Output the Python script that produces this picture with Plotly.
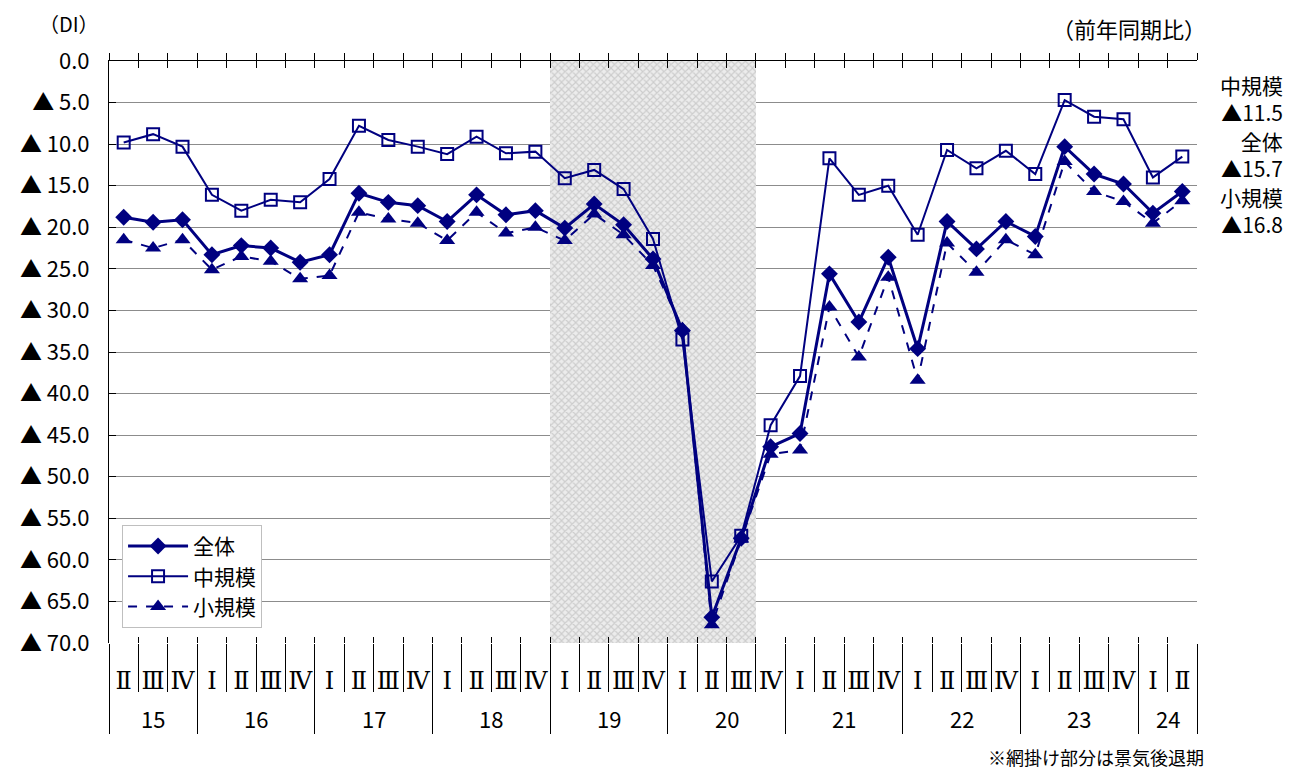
import plotly.graph_objects as go

# ---------------- data ----------------
years = ["15", "16", "17", "18", "19", "20", "21", "22", "23", "24"]
year_quarters = [
    ["Ⅱ", "Ⅲ", "Ⅳ"],
    ["Ⅰ", "Ⅱ", "Ⅲ", "Ⅳ"],
    ["Ⅰ", "Ⅱ", "Ⅲ", "Ⅳ"],
    ["Ⅰ", "Ⅱ", "Ⅲ", "Ⅳ"],
    ["Ⅰ", "Ⅱ", "Ⅲ", "Ⅳ"],
    ["Ⅰ", "Ⅱ", "Ⅲ", "Ⅳ"],
    ["Ⅰ", "Ⅱ", "Ⅲ", "Ⅳ"],
    ["Ⅰ", "Ⅱ", "Ⅲ", "Ⅳ"],
    ["Ⅰ", "Ⅱ", "Ⅲ", "Ⅳ"],
    ["Ⅰ", "Ⅱ"],
]

# DI values (negative values shown as ▲ magnitude)
total = [18.8, 19.4, 19.1, 23.3, 22.2, 22.5, 24.2, 23.3, 15.9, 17.0, 17.4, 19.3,
         16.1, 18.5, 18.0, 20.1, 17.2, 19.7, 23.8, 32.4, 66.9, 57.4, 46.4, 44.8,
         25.6, 31.4, 23.6, 34.6, 19.3, 22.6, 19.3, 21.1, 10.3, 13.6, 14.8, 18.3, 15.7]
mid = [9.8, 8.8, 10.3, 16.1, 18.0, 16.7, 17.0, 14.2, 7.8, 9.5, 10.3, 11.2,
       9.1, 11.1, 10.9, 14.1, 13.1, 15.4, 21.4, 33.5, 62.6, 57.1, 43.8, 37.9,
       11.7, 16.1, 15.0, 20.9, 10.7, 12.9, 10.8, 13.6, 4.7, 6.7, 7.0, 14.0, 11.5]
small = [21.5, 22.5, 21.5, 25.1, 23.5, 24.1, 26.2, 25.8, 18.2, 19.0, 19.5, 21.6,
         18.2, 20.7, 20.0, 21.6, 18.4, 20.9, 24.6, 32.2, 67.8, 57.5, 47.3, 46.8,
         29.6, 35.6, 26.0, 38.4, 21.9, 25.4, 21.5, 23.3, 12.1, 15.7, 16.9, 19.5, 16.8]

y_ticks = [0, 5, 10, 15, 20, 25, 30, 35, 40, 45, 50, 55, 60, 65, 70]
y_ticktext = ["0.0"] + ["▲ %.1f" % v for v in y_ticks[1:]]

# recession period (shaded): 2019 I .. 2020 III  (index positions)
recession_start = 15
recession_end = 21

# ---------------- derived ----------------
quarters = [q for qs in year_quarters for q in qs]
n = len(quarters)
xs = list(range(n))
boundaries = [i - 0.5 for i in range(n + 1)]
year_bounds = [-0.5]
year_centers = []
pos = 0
for qs in year_quarters:
    year_centers.append(pos + (len(qs) - 1) / 2)
    pos += len(qs)
    year_bounds.append(pos - 0.5)

FONT = "Noto Sans CJK JP"
NAVY = "#000080"

fig = go.Figure()

# shaded recession band
fig.add_trace(go.Bar(
    x=[(recession_start + recession_end) / 2], y=[70], base=[0],
    width=[recession_end - recession_start + 1],
    marker=dict(color="#e6e6e6", line=dict(width=0),
                pattern=dict(shape="x", fgcolor="#ababab", bgcolor="#ececec",
                             size=5, solidity=0.4)),
    showlegend=False, hoverinfo="skip"))

fig.add_trace(go.Scatter(
    x=xs, y=total, name="全体", mode="lines+markers",
    line=dict(color=NAVY, width=3),
    marker=dict(symbol="diamond", size=13, color=NAVY)))
fig.add_trace(go.Scatter(
    x=xs, y=mid, name="中規模", mode="lines+markers",
    line=dict(color=NAVY, width=2),
    marker=dict(symbol="square-open", size=12, color=NAVY, line=dict(width=2))))
fig.add_trace(go.Scatter(
    x=xs, y=small, name="小規模", mode="lines+markers",
    line=dict(color=NAVY, width=2, dash="dash"),
    marker=dict(symbol="triangle-up", size=14, color=NAVY)))

xr = [-0.5, n - 0.5]
common = dict(range=xr, showgrid=False, zeroline=False, fixedrange=True)

# the page body adds an 8px offset; the figure is sized to compensate
fig.update_layout(
    width=1295, height=763, autosize=False,
    margin=dict(l=99, r=106, t=53, b=128),
    paper_bgcolor="white", plot_bgcolor="white",
    font=dict(family=FONT, color="black", size=20),
    bargap=0,
    xaxis=dict(**common, tickmode="array", tickvals=xs, ticktext=quarters,
               ticks="", showline=False,
               tickfont=dict(size=24, family="DejaVu Serif, Liberation Serif, serif"),
               ticklabelstandoff=21),
    xaxis2=dict(**common, overlaying="x", anchor="y", side="top",
                tickmode="array", tickvals=boundaries, ticks="outside",
                ticklen=7, tickcolor="black", showline=True, linecolor="black",
                linewidth=1, showticklabels=False),
    xaxis3=dict(**common, overlaying="x", anchor="y", side="top",
                tickmode="array", tickvals=boundaries, ticks="inside",
                ticklen=7, tickcolor="black", showline=False,
                showticklabels=False),
    xaxis4=dict(**common, overlaying="x", anchor="y", side="bottom",
                tickmode="array", tickvals=boundaries, ticks="outside",
                ticklen=48, tickcolor="black", showline=False,
                showticklabels=False),
    xaxis5=dict(**common, overlaying="x", anchor="y", side="bottom",
                tickmode="array", tickvals=year_bounds, ticks="outside",
                ticklen=90, tickcolor="black", showline=False,
                showticklabels=False),
    xaxis6=dict(**common, overlaying="x", anchor="y", side="bottom",
                tickmode="array", tickvals=boundaries, ticks="inside",
                ticklen=6, tickcolor="black", showline=False,
                showticklabels=False),
    yaxis=dict(range=[70, 0], tickmode="array", tickvals=y_ticks,
               ticktext=y_ticktext, showgrid=True, gridcolor="#8c8c8c",
               gridwidth=1, zeroline=False, showline=True, linecolor="black",
               linewidth=1, ticks="inside", ticklen=7, tickcolor="black",
               tickfont=dict(size=22), ticklabelstandoff=14, fixedrange=True),
    legend=dict(x=0.012, y=0.203, xanchor="left", yanchor="top",
                bgcolor="white", bordercolor="#bfbfbf", borderwidth=1,
                font=dict(size=21), itemwidth=60, tracegroupgap=0),
    showlegend=True,
)

# dummy traces to activate overlay axes
for ax in ["x2", "x3", "x4", "x5", "x6"]:
    fig.add_trace(go.Scatter(x=[None], y=[None], xaxis=ax, yaxis="y",
                             showlegend=False, hoverinfo="skip"))

annotations = []
for yc, yl in zip(year_centers, years):
    annotations.append(dict(x=yc, y=-0.129, xref="x", yref="paper", text=yl,
                            showarrow=False, font=dict(size=22),
                            xanchor="center", yanchor="middle"))

annotations += [
    dict(x=-0.037, y=1.064, xref="paper", yref="paper", text="（DI）",
         showarrow=False, font=dict(size=20), xanchor="center", yanchor="middle",
         borderpad=0),
    dict(x=1.009, y=1.056, xref="paper", yref="paper", text="（前年同期比）",
         showarrow=False, font=dict(size=22), xanchor="right", yanchor="middle",
         borderpad=0),
    dict(x=1.007, y=-0.196, xref="paper", yref="paper", text="※網掛け部分は景気後退期",
         showarrow=False, font=dict(size=18), xanchor="right", yanchor="middle",
         borderpad=0),
]

side_labels = [
    ("中規模<br>▲%.1f" % mid[-1], 0.935),
    ("全体<br>▲%.1f" % total[-1], 0.839),
    ("小規模<br>▲%.1f" % small[-1], 0.743),
]
for txt, yp in side_labels:
    annotations.append(dict(x=1.080, y=yp, xref="paper", yref="paper", text=txt,
                            showarrow=False, font=dict(size=21), align="right",
                            xanchor="right", yanchor="middle", borderpad=0))

fig.update_layout(annotations=annotations)

fig.write_html("out.html")
